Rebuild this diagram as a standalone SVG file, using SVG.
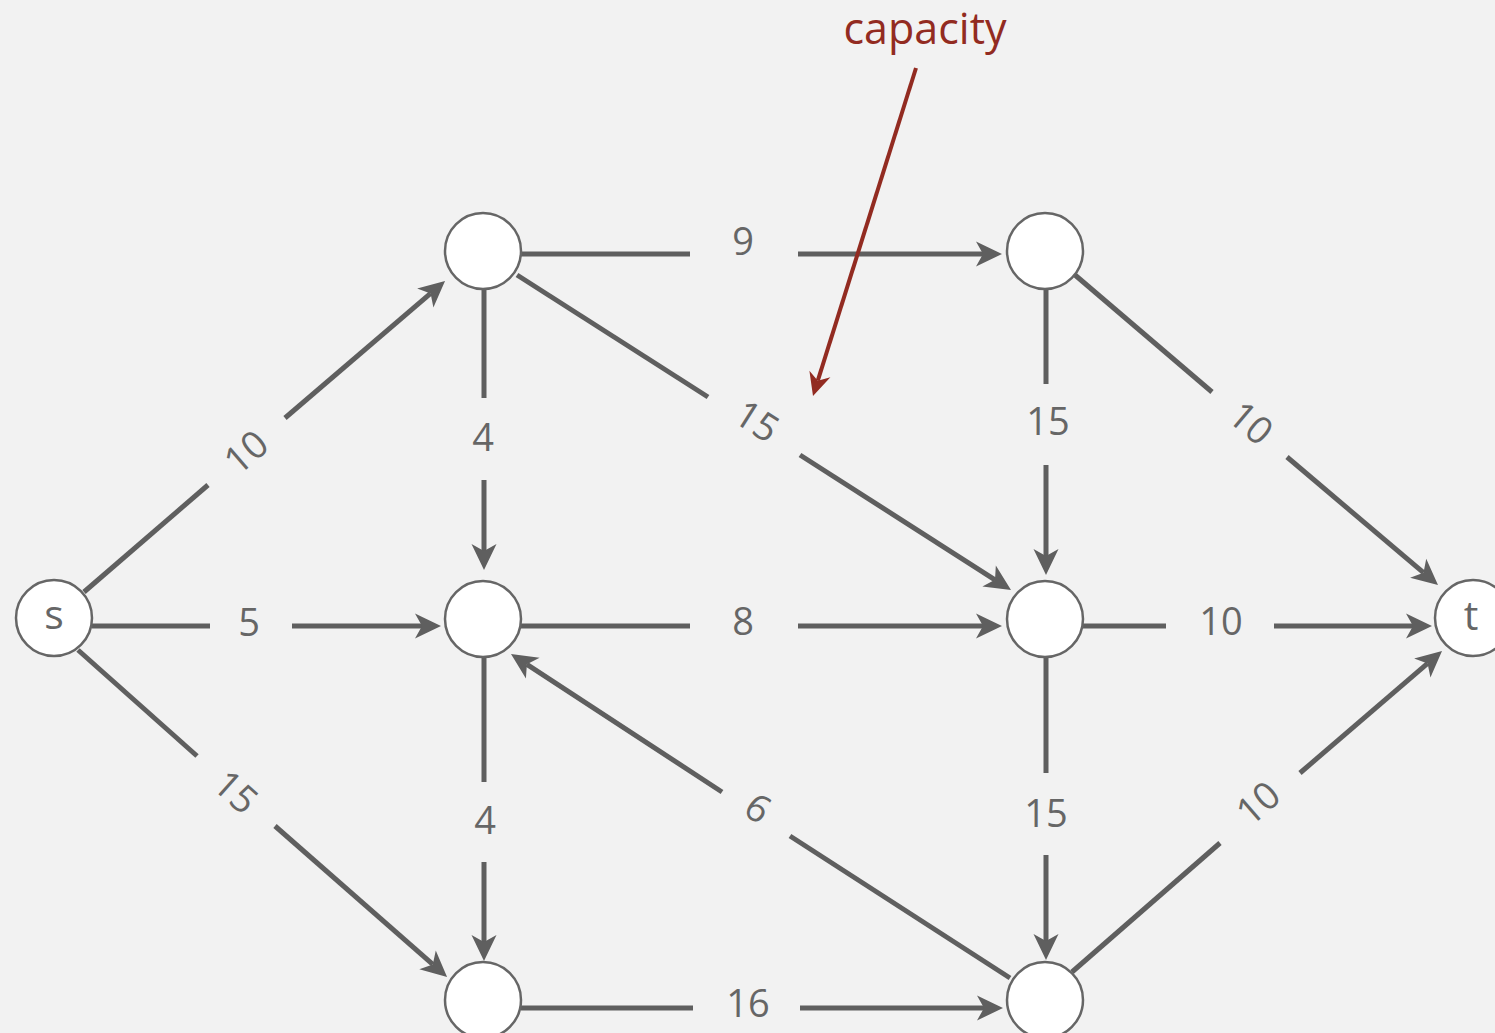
<svg xmlns="http://www.w3.org/2000/svg" width="1495" height="1033" viewBox="0 0 1495 1033">
<style>
.e{stroke:#5f5f5f;stroke-width:5;fill:none}
.a{marker-end:url(#ah)}
.n{fill:#fff;stroke:#666;stroke-width:2.5}
.l{font-family:"Open Sans","DejaVu Sans",sans-serif;font-size:38px;fill:#666;text-anchor:middle}
.nl{font-family:"Open Sans","DejaVu Sans",sans-serif;font-size:41px;fill:#666;text-anchor:middle}
.cap{font-family:"Open Sans","DejaVu Sans",sans-serif;font-size:43px;fill:#922b21;text-anchor:middle}
</style>
<defs>
<marker id="ah" markerUnits="userSpaceOnUse" markerWidth="40" markerHeight="40" viewBox="-10 -20 40 40" refX="0" refY="0" orient="auto" overflow="visible">
<path d="M19,0 L-7,-12.5 L0,0 L-7,12.5 Z" fill="#5f5f5f"/>
</marker>
<marker id="rh" markerUnits="userSpaceOnUse" markerWidth="40" markerHeight="40" viewBox="-10 -20 40 40" refX="0" refY="0" orient="auto" overflow="visible">
<path d="M16,0 L-7,-11 L0,0 L-7,11 Z" fill="#922b21"/>
</marker>
</defs>
<rect width="1495" height="1033" fill="#f2f2f2"/>
<g id="edges">
<path class="e" d="M84,592 L208,485"/><path class="e a" d="M285,418 L430.6,293.4"/>
<path class="e" d="M92,626 L210,626"/><path class="e a" d="M292,626 L422,626"/>
<path class="e" d="M78,650 L197,756"/><path class="e a" d="M275,826 L432.8,964.4"/>
<path class="e" d="M521,254 L690,254"/><path class="e a" d="M798,254 L983,254"/>
<path class="e" d="M484,289 L484,398"/><path class="e a" d="M484,480 L484,551"/>
<path class="e" d="M517,275 L708,397"/><path class="e a" d="M800,455 L995,579.8"/>
<path class="e" d="M1046,289 L1046,384"/><path class="e a" d="M1046,465 L1046,556"/>
<path class="e" d="M1075,275 L1212,392"/><path class="e a" d="M1287,457 L1423.5,572.7"/>
<path class="e" d="M521,626 L690,626"/><path class="e a" d="M798,626 L983,626"/>
<path class="e" d="M1083,626 L1166,626"/><path class="e a" d="M1274,626 L1413,626"/>
<path class="e" d="M484,657 L484,782"/><path class="e a" d="M484,862 L484,942"/>
<path class="e" d="M1010,978 L790,836"/><path class="e a" d="M722,792 L526.9,664.3"/>
<path class="e" d="M1046,657 L1046,773"/><path class="e a" d="M1046,855 L1046,941"/>
<path class="e" d="M521,1008 L693,1008"/><path class="e a" d="M800,1008 L984,1008"/>
<path class="e" d="M1072,972 L1220,843"/><path class="e a" d="M1300,773 L1427.6,663.4"/>
<path d="M916,68 L817.8,380.7" stroke="#922b21" stroke-width="4" fill="none" marker-end="url(#rh)"/>
</g>
<g id="edge-labels">
<text class="l" transform="translate(246,452) rotate(-40.75)" y="13.5">10</text>
<text class="l" x="249" y="635.5">5</text>
<text class="l" transform="translate(236,792) rotate(41.7)" y="13.5">15</text>
<text class="l" x="743" y="254.5">9</text>
<text class="l" x="483" y="450.5">4</text>
<text class="l" transform="translate(757,421) rotate(32.5)" y="13.5">15</text>
<text class="l" x="1048" y="435">15</text>
<text class="l" transform="translate(1251,423) rotate(40.4)" y="13.5">10</text>
<text class="l" x="743" y="634.5">8</text>
<text class="l" x="1221" y="635">10</text>
<text class="l" x="485" y="833.5">4</text>
<text class="l" transform="translate(758,808) rotate(33)" y="13.5">6</text>
<text class="l" x="1046" y="826.5">15</text>
<text class="l" x="748" y="1016.5">16</text>
<text class="l" transform="translate(1258,803) rotate(-40.9)" y="13.5">10</text>
<text class="cap" x="925" y="44">capacity</text>
</g>
<g id="node-s"><circle class="n" cx="54" cy="618" r="38"/><text class="nl" x="54" y="629">s</text></g>
<g id="node-a"><circle class="n" cx="483" cy="251" r="38"/></g>
<g id="node-b"><circle class="n" cx="1045" cy="251" r="38"/></g>
<g id="node-c"><circle class="n" cx="483" cy="619" r="38"/></g>
<g id="node-d"><circle class="n" cx="1045" cy="619" r="38"/></g>
<g id="node-t"><circle class="n" cx="1473" cy="618" r="38"/><text class="nl" x="1471" y="630">t</text></g>
<g id="node-e"><circle class="n" cx="483" cy="1000" r="38"/></g>
<g id="node-f"><circle class="n" cx="1045" cy="1000" r="38"/></g>
</svg>
